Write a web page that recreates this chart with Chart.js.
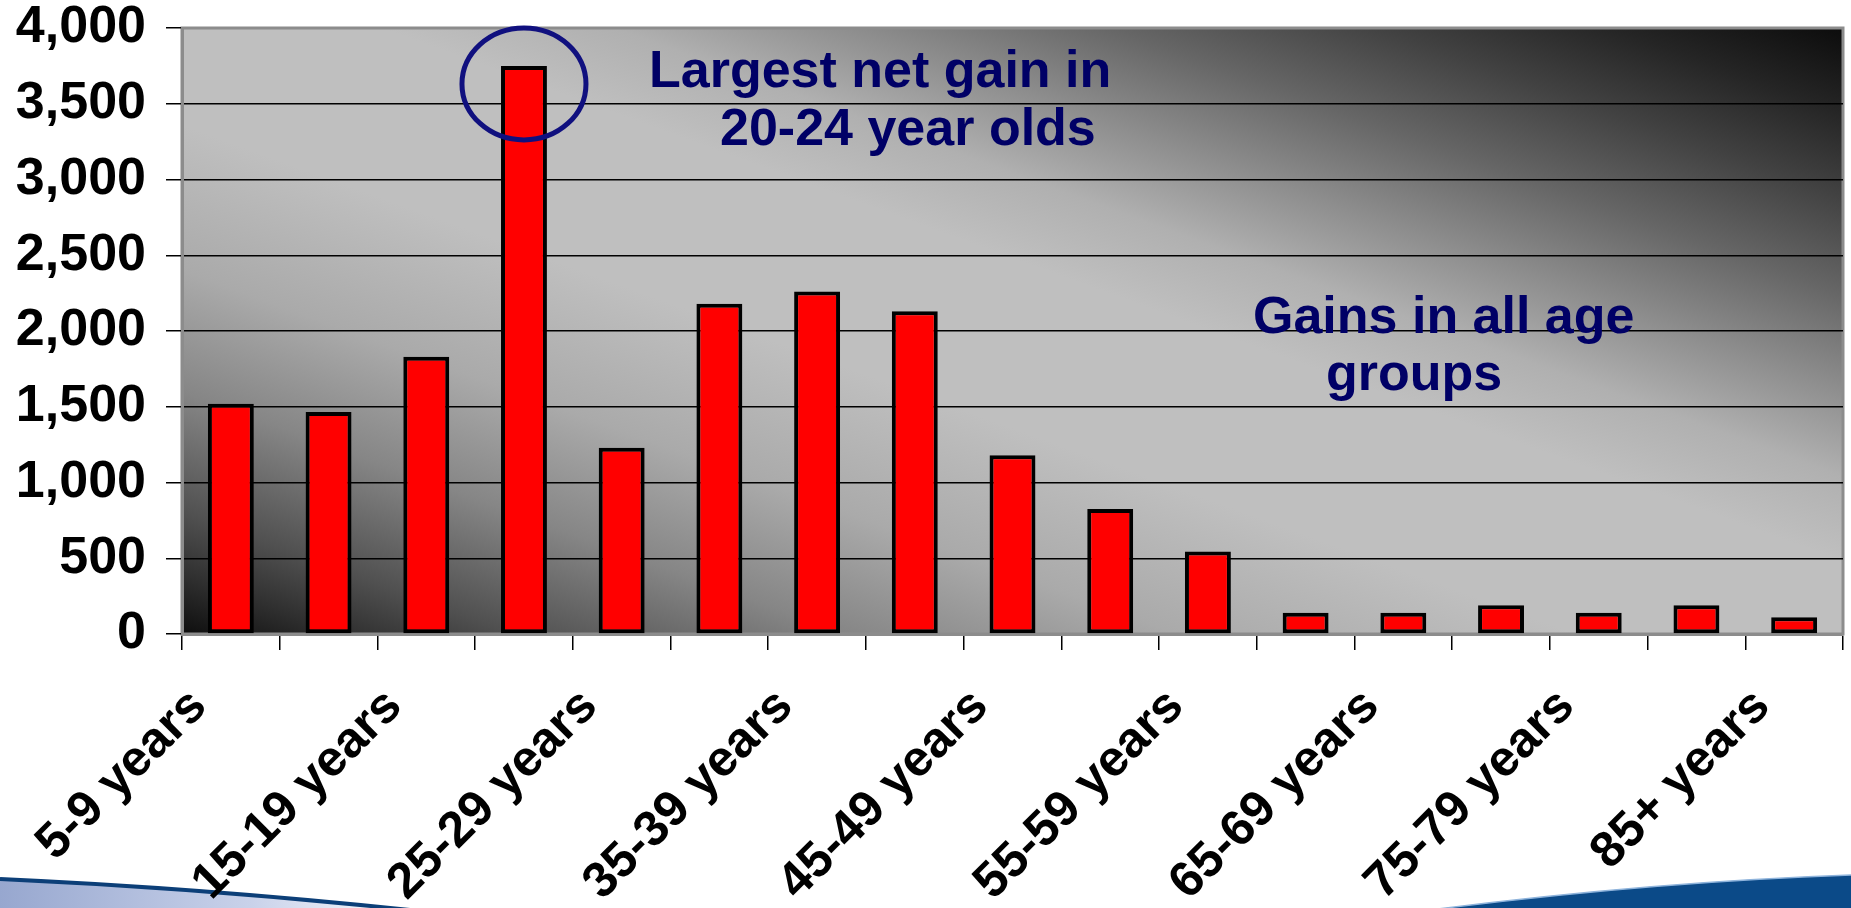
<!DOCTYPE html>
<html>
<head>
<meta charset="utf-8">
<script src="https://cdn.jsdelivr.net/npm/chart.js@4.4.1/dist/chart.umd.min.js"></script>
<style>
    html, body { margin: 0; padding: 0; background: #ffffff; overflow: hidden; }
    #wrap { width: 1851px; height: 908px; position: relative; }
</style>
</head>
<body>
<div id="wrap"><canvas id="grafico"></canvas></div>
<script>
// Dados
const faixas = ['5-9 years', '10-14 years', '15-19 years', '20-24 years', '25-29 years', '30-34 years',
    '35-39 years', '40-44 years', '45-49 years', '50-54 years', '55-59 years', '60-64 years',
    '65-69 years', '70-74 years', '75-79 years', '80-84 years', '85+ years'];
const ganhoLiquido = [1520, 1465, 1830, 3750, 1230, 2180, 2260, 2130, 1180, 825, 545, 140, 140, 190, 140, 190, 110];
const yMin = 0;
const yMax = 4000;
const yPasso = 500;

const FONTE = '"Liberation Sans", Arial, sans-serif';
const AZUL_TEXTO = '#000066';

// fundo degradê da área do gráfico + faixa azul do slide
const fundoPlugin = {
    id: 'fundo',
    beforeDraw(chart) {
        const { ctx, chartArea: a } = chart;
        ctx.save();

        // faixa decorativa inferior (esquerda)
        const gEsq = ctx.createLinearGradient(0, 0, 420, 0);
        gEsq.addColorStop(0, '#97a7cf');
        gEsq.addColorStop(0.6, '#c9d2ea');
        gEsq.addColorStop(1, '#ffffff');
        ctx.beginPath();
        ctx.moveTo(0, 879);
        ctx.quadraticCurveTo(200, 888, 410, 910);
        ctx.lineTo(0, 910);
        ctx.closePath();
        ctx.fillStyle = gEsq;
        ctx.fill();
        ctx.beginPath();
        ctx.moveTo(0, 879);
        ctx.quadraticCurveTo(200, 888, 410, 910);
        ctx.strokeStyle = '#0c3f78';
        ctx.lineWidth = 4;
        ctx.stroke();

        // faixa decorativa inferior (direita)
        ctx.beginPath();
        ctx.moveTo(1430, 910);
        ctx.quadraticCurveTo(1650, 882, 1851, 875);
        ctx.lineTo(1851, 910);
        ctx.closePath();
        ctx.fillStyle = '#0b4a88';
        ctx.fill();
        ctx.beginPath();
        ctx.moveTo(1430, 910);
        ctx.quadraticCurveTo(1650, 882, 1851, 875);
        ctx.strokeStyle = '#8fb4dc';
        ctx.lineWidth = 1.5;
        ctx.stroke();

        // degradê em espaço unitário (escuro nos cantos inf-esq e sup-dir)
        ctx.translate(a.left, a.top);
        ctx.scale(a.right - a.left, a.bottom - a.top);
        const g = ctx.createLinearGradient(0, 1, 1, 0);
        g.addColorStop(0, '#0e0e0e');
        g.addColorStop(0.05, '#303030');
        g.addColorStop(0.1, '#505050');
        g.addColorStop(0.2, '#868686');
        g.addColorStop(0.3, '#aaaaaa');
        g.addColorStop(0.42, '#bfbfbf');
        g.addColorStop(0.56, '#bfbfbf');
        g.addColorStop(0.63, '#b0b0b0');
        g.addColorStop(0.7, '#8e8e8e');
        g.addColorStop(0.78, '#666666');
        g.addColorStop(0.86, '#424242');
        g.addColorStop(0.93, '#252525');
        g.addColorStop(1, '#0c0c0c');
        ctx.fillStyle = g;
        ctx.fillRect(0, 0, 1, 1);
        ctx.restore();

        // moldura cinza da área
        ctx.save();
        ctx.strokeStyle = '#8c8c8c';
        ctx.lineWidth = 3;
        ctx.strokeRect(a.left, a.top, a.right - a.left, a.bottom - a.top);
        ctx.restore();
    }
};

// anotações: elipse no maior ganho e textos
const anotacoesPlugin = {
    id: 'anotacoes',
    afterDatasetsDraw(chart) {
        const { ctx, chartArea: a } = chart;
        const meta = chart.getDatasetMeta(0);
        const iMax = ganhoLiquido.indexOf(Math.max(...ganhoLiquido));
        const barra = meta.data[iMax];
        ctx.save();
        ctx.beginPath();
        ctx.ellipse(barra.x, barra.y + 18, 62, 56, 0, 0, Math.PI * 2);
        ctx.strokeStyle = '#10107f';
        ctx.lineWidth = 5;
        ctx.stroke();

        ctx.fillStyle = AZUL_TEXTO;
        ctx.font = 'bold 52px ' + FONTE;
        ctx.textAlign = 'left';
        ctx.textBaseline = 'alphabetic';
        ctx.fillText('Largest net gain in', a.left + 467, 87);
        ctx.fillText('20-24 year olds', a.left + 538, 145);
        ctx.fillText('Gains in all age', a.left + 1071, 333);
        ctx.fillText('groups', a.left + 1144, 390);
        ctx.restore();
    }
};

const ctx = document.getElementById('grafico').getContext('2d');
new Chart(ctx, {
    type: 'bar',
    data: {
        labels: faixas,
        datasets: [{
            data: ganhoLiquido,
            backgroundColor: '#ff0000',
            borderColor: '#000000',
            borderWidth: 4,
            borderSkipped: false,
            categoryPercentage: 1,
            barPercentage: 0.47
        }]
    },
    options: {
        responsive: true,
        maintainAspectRatio: false,
        animation: false,
        layout: { padding: { top: 28, right: 8, left: 0, bottom: 0 } },
        plugins: {
            legend: { display: false },
            tooltip: { enabled: false }
        },
        scales: {
            x: {
                afterFit: (s) => { s.height = 274; s.paddingLeft = 0; s.paddingRight = 0; },
                grid: {
                    offset: true,
                    drawOnChartArea: false,
                    drawTicks: true,
                    tickLength: 16,
                    tickColor: '#000000',
                    lineWidth: 1.5
                },
                border: { color: '#8c8c8c', width: 3 },
                ticks: {
                    autoSkip: false,
                    minRotation: 45,
                    maxRotation: 45,
                    padding: 31,
                    labelOffset: -32,
                    color: '#000000',
                    font: { family: FONTE, size: 50, weight: 'bold', lineHeight: 1 },
                    callback: (v, i) => (i % 2 === 0 ? faixas[i] : '')
                }
            },
            y: {
                min: yMin,
                max: yMax,
                afterFit: (s) => { s.width = 182; s.paddingTop = 0; s.paddingBottom = 0; },
                grid: {
                    color: (c) => (c.tick && (c.tick.value === yMax || c.tick.value === yMin) ? 'rgba(0,0,0,0)' : '#000000'),
                    tickColor: '#000000',
                    lineWidth: 1.5,
                    tickLength: 16
                },
                border: { color: '#8c8c8c', width: 3 },
                ticks: {
                    stepSize: yPasso,
                    padding: 20,
                    color: '#000000',
                    font: { family: FONTE, size: 52, weight: 'bold', lineHeight: 1 },
                    callback: (v) => v.toLocaleString('en-US')
                }
            }
        }
    },
    plugins: [fundoPlugin, anotacoesPlugin]
});
</script>
</body>
</html>
